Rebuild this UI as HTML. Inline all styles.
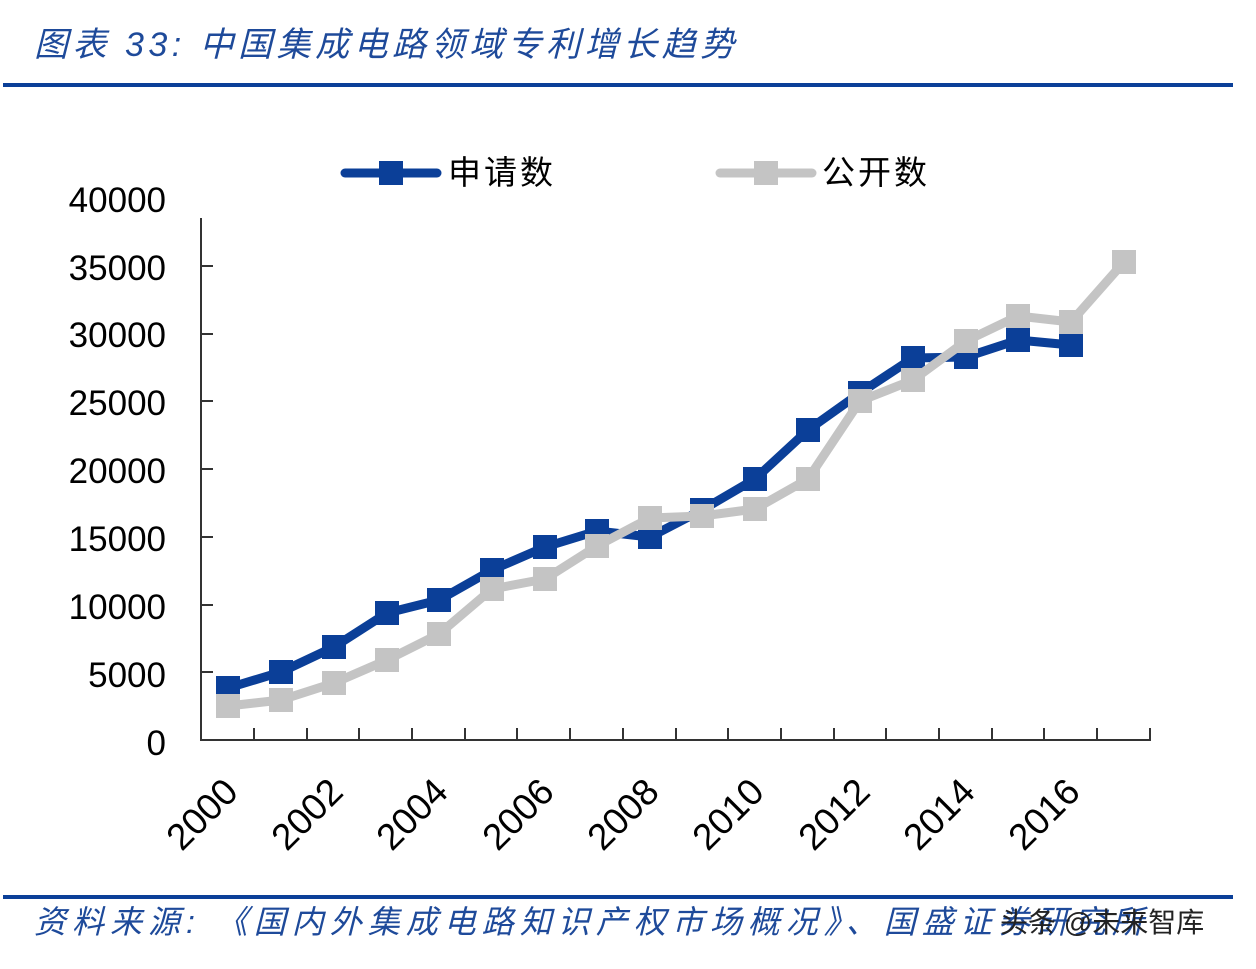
<!DOCTYPE html>
<html><head><meta charset="utf-8"><style>
body{margin:0;background:#fff;width:1256px;height:964px;overflow:hidden}
</style></head><body>
<svg width="1256" height="964" xmlns="http://www.w3.org/2000/svg">
<text x="34" y="56" font-family="Liberation Sans, Noto Sans CJK SC, sans-serif" font-size="34" font-style="italic" fill="#1e4a9a" letter-spacing="4.5">图表 33:  中国集成电路领域专利增长趋势</text>
<rect x="3" y="83" width="1230" height="4" fill="#0b3f98"/>
<rect x="3" y="895" width="1230" height="4" fill="#0b3f98"/>
<text x="34" y="933" font-family="Liberation Sans, Noto Sans CJK SC, sans-serif" font-size="32" font-style="italic" fill="#1e4a9a" letter-spacing="6">资料来源:  《国内外集成电路知识产权市场概况》、国盛证券研究所</text>
<text x="1000" y="932" font-family="Liberation Sans, Noto Sans CJK SC, sans-serif" font-size="28" fill="#222">头条 @未来智库</text>
<g font-family="Liberation Sans, DejaVu Sans, sans-serif" font-size="35" fill="#000" text-anchor="end">
<text x="166" y="212">40000</text><text x="166" y="280">35000</text><text x="166" y="347">30000</text><text x="166" y="415">25000</text><text x="166" y="483">20000</text><text x="166" y="551">15000</text><text x="166" y="619">10000</text><text x="166" y="687">5000</text><text x="166" y="755">0</text>
</g>
<g stroke="#333" stroke-width="2" fill="none">
<path d="M201 218V740H1150V728"/>
<path d="M201 266h12M201 334h12M201 401h12M201 469h12M201 537h12M201 605h12M201 672h12"/>
<path d="M254 740v-12M307 740v-12M359 740v-12M412 740v-12M465 740v-12M517 740v-12M570 740v-12M623 740v-12M676 740v-12M728 740v-12M781 740v-12M834 740v-12M886 740v-12M939 740v-12M992 740v-12M1044 740v-12M1097 740v-12"/>
</g>
<g font-family="Liberation Sans, DejaVu Sans, sans-serif" font-size="37" fill="#000" text-anchor="end">
<text transform="translate(240,794) rotate(-45)">2000</text>
<text transform="translate(345,794) rotate(-45)">2002</text>
<text transform="translate(450,794) rotate(-45)">2004</text>
<text transform="translate(556,794) rotate(-45)">2006</text>
<text transform="translate(661,794) rotate(-45)">2008</text>
<text transform="translate(766,794) rotate(-45)">2010</text>
<text transform="translate(872,794) rotate(-45)">2012</text>
<text transform="translate(977,794) rotate(-45)">2014</text>
<text transform="translate(1082,794) rotate(-45)">2016</text>
</g>
<polyline fill="none" stroke="#0b3f98" stroke-width="9" stroke-linejoin="round" points="228,688 281,672 334,647 387,613 439,600 492,570 545,547 597,531 650,537 702,510 755,479 808,430 860,393 913,358 966,357 1018,340 1071,345"/>
<g fill="#0b3f98">
<rect x="216" y="676" width="24" height="24"/><rect x="269" y="660" width="24" height="24"/><rect x="322" y="635" width="24" height="24"/><rect x="375" y="601" width="24" height="24"/><rect x="427" y="588" width="24" height="24"/><rect x="480" y="558" width="24" height="24"/><rect x="533" y="535" width="24" height="24"/><rect x="585" y="519" width="24" height="24"/><rect x="638" y="525" width="24" height="24"/><rect x="690" y="498" width="24" height="24"/><rect x="743" y="467" width="24" height="24"/><rect x="796" y="418" width="24" height="24"/><rect x="848" y="381" width="24" height="24"/><rect x="901" y="346" width="24" height="24"/><rect x="954" y="345" width="24" height="24"/><rect x="1006" y="328" width="24" height="24"/><rect x="1059" y="333" width="24" height="24"/>
</g>
<polyline fill="none" stroke="#c4c4c4" stroke-width="9" stroke-linejoin="round" points="228,706 281,700 334,683 387,660 439,634 492,589 545,579 597,546 650,518 702,516 755,509 808,479 860,401 913,380 966,341 1018,316 1071,322 1124,262"/>
<g fill="#c4c4c4">
<rect x="216" y="694" width="24" height="24"/><rect x="269" y="688" width="24" height="24"/><rect x="322" y="671" width="24" height="24"/><rect x="375" y="648" width="24" height="24"/><rect x="427" y="622" width="24" height="24"/><rect x="480" y="577" width="24" height="24"/><rect x="533" y="567" width="24" height="24"/><rect x="585" y="534" width="24" height="24"/><rect x="638" y="506" width="24" height="24"/><rect x="690" y="504" width="24" height="24"/><rect x="743" y="497" width="24" height="24"/><rect x="796" y="467" width="24" height="24"/><rect x="848" y="389" width="24" height="24"/><rect x="901" y="368" width="24" height="24"/><rect x="954" y="329" width="24" height="24"/><rect x="1006" y="304" width="24" height="24"/><rect x="1059" y="310" width="24" height="24"/><rect x="1112" y="250" width="24" height="24"/>
</g>
<line x1="345" y1="173" x2="437" y2="173" stroke="#0b3f98" stroke-width="9" stroke-linecap="round"/>
<rect x="379" y="161" width="24" height="24" fill="#0b3f98"/>
<text x="448" y="184" font-family="Liberation Sans, Noto Sans CJK SC, sans-serif" font-size="33" letter-spacing="3">申请数</text>
<line x1="720" y1="173" x2="812" y2="173" stroke="#c4c4c4" stroke-width="9" stroke-linecap="round"/>
<rect x="754" y="161" width="24" height="24" fill="#c4c4c4"/>
<text x="822" y="184" font-family="Liberation Sans, Noto Sans CJK SC, sans-serif" font-size="33" letter-spacing="3">公开数</text>
</svg>
</body></html>
